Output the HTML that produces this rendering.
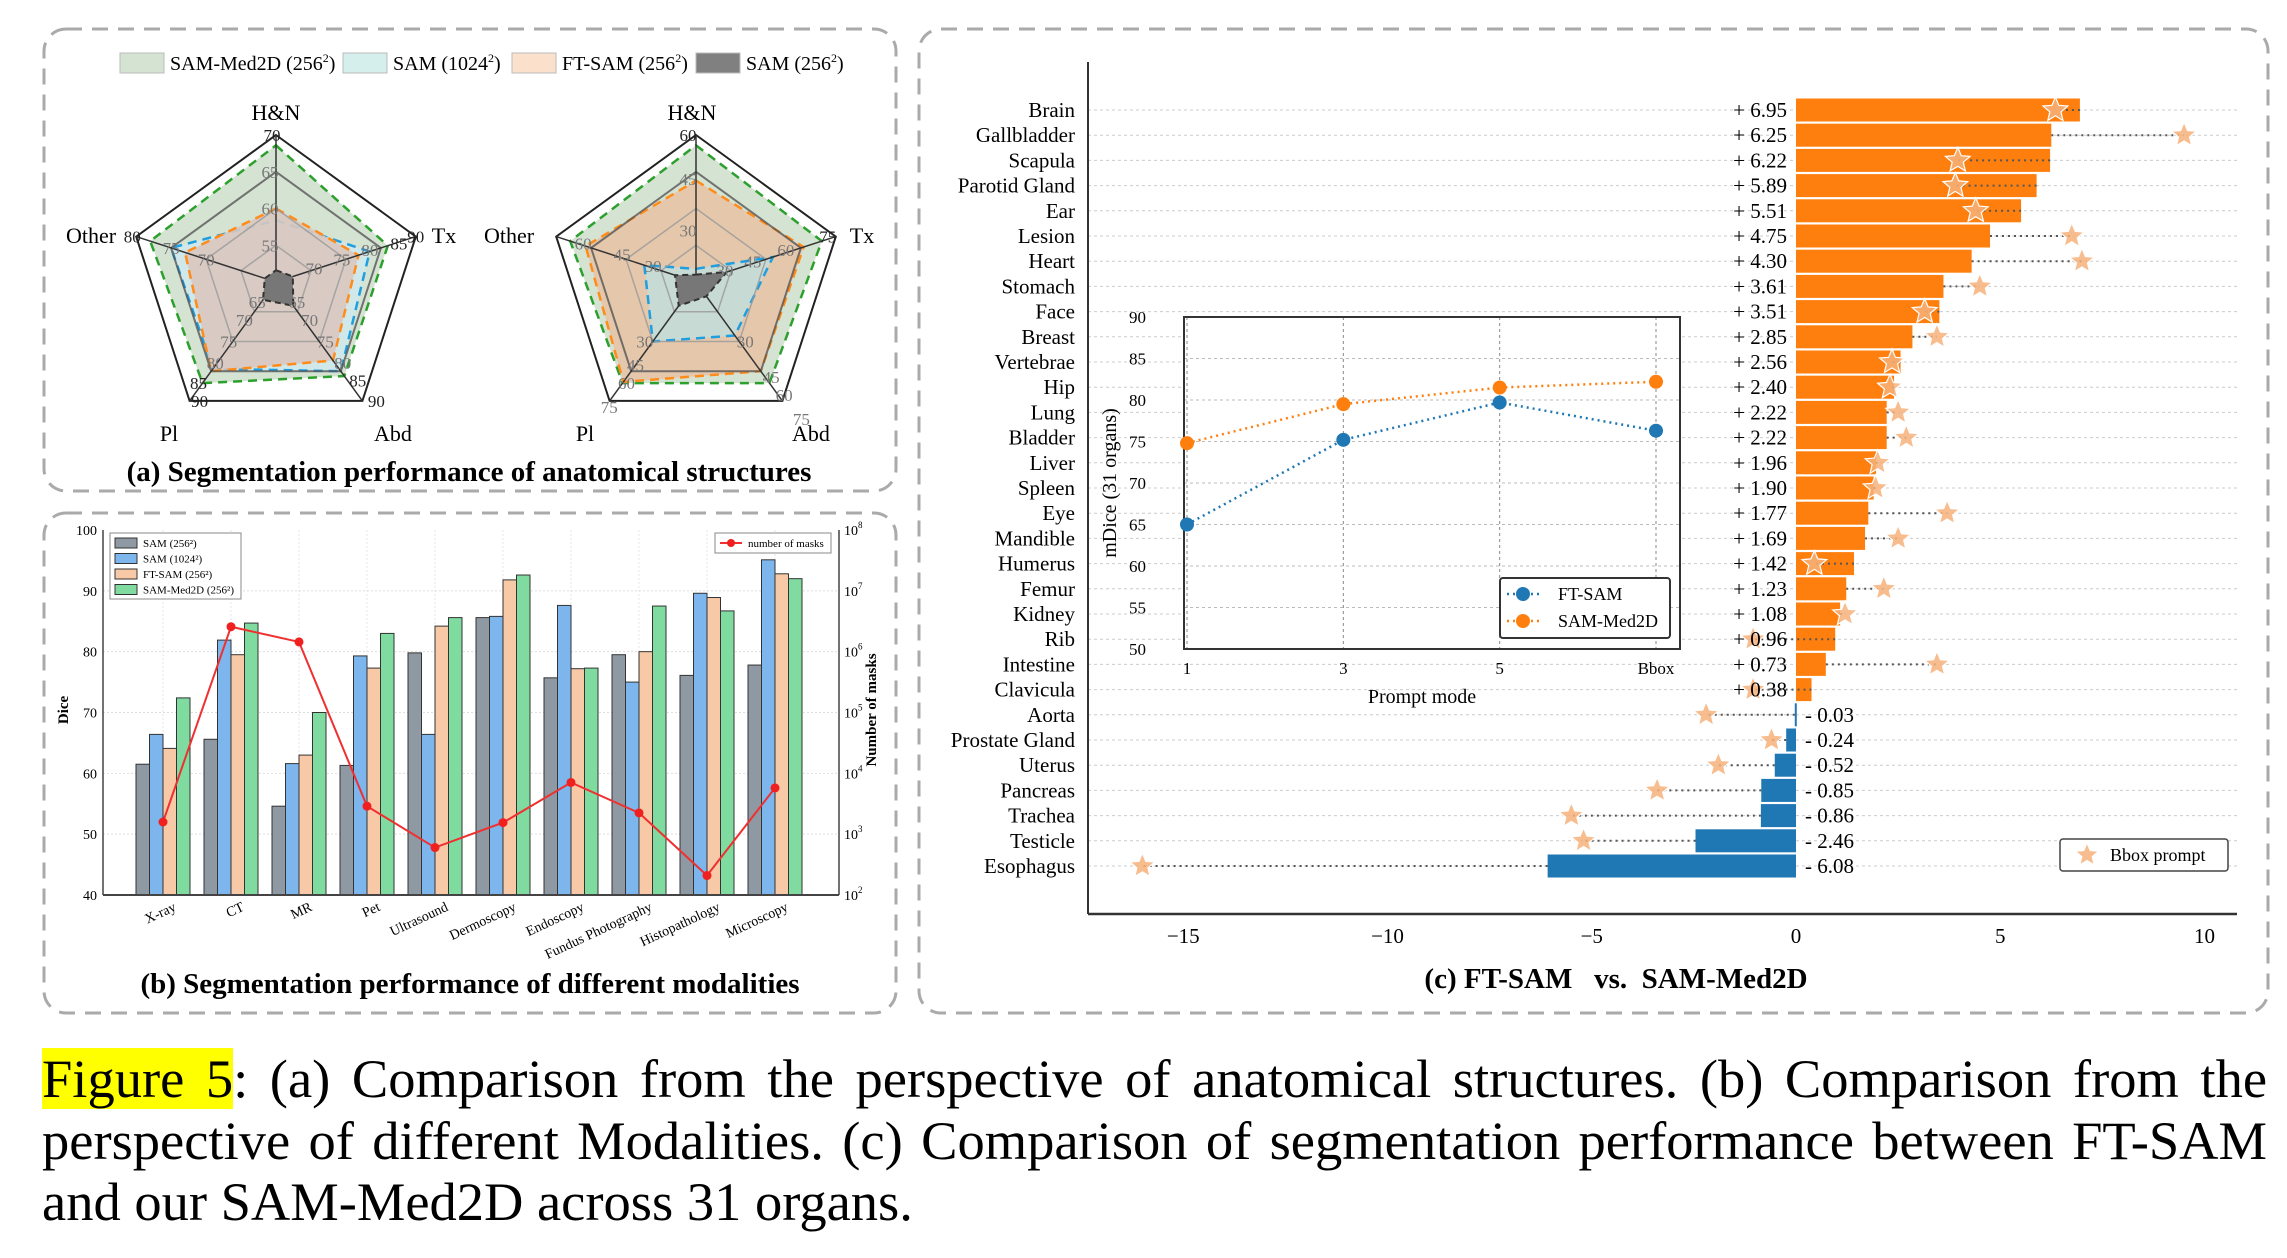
<!DOCTYPE html>
<html><head><meta charset="utf-8"><style>
body{margin:0;background:#fff;width:2287px;height:1258px;overflow:hidden;position:relative;font-family:"Liberation Serif",serif}
#fig{position:absolute;left:0;top:0}
.cap{position:absolute;left:42px;width:2225px;font-size:54.5px;line-height:60px;text-align:justify;text-align-last:justify;white-space:nowrap;color:#000}
.cap.last{text-align-last:left}
.hl{background:#ffff00}
</style></head><body>
<svg id="fig" width="2287" height="1258" viewBox="0 0 2287 1258" font-family="Liberation Serif, serif">
<rect x="44" y="29" width="852" height="462" rx="22" fill="none" stroke="#aaa" stroke-width="3" stroke-dasharray="16,10"/>
<rect x="44" y="513" width="852" height="500" rx="22" fill="none" stroke="#aaa" stroke-width="3" stroke-dasharray="16,10"/>
<rect x="919" y="29" width="1349" height="984" rx="22" fill="none" stroke="#aaa" stroke-width="3" stroke-dasharray="16,10"/>
<g id="pa"></g>
<g id="pb"></g>
<g id="pc"></g>
<text x="469" y="481" text-anchor="middle" font-size="29" font-weight="bold">(a) Segmentation performance of anatomical structures</text>
<text x="470" y="993" text-anchor="middle" font-size="29" font-weight="bold">(b) Segmentation performance of different modalities</text>
<text x="1616" y="988" text-anchor="middle" font-size="29" font-weight="bold" xml:space="preserve">(c) FT-SAM   vs.  SAM-Med2D</text>
</svg>
<div class="cap" style="top:1049px"><span class="hl">Figure 5</span>: (a) Comparison from the perspective of anatomical structures. (b) Comparison from the</div>
<div class="cap" style="top:1111px">perspective of different Modalities. (c) Comparison of segmentation performance between FT-SAM</div>
<div class="cap last" style="top:1172px">and our SAM-Med2D across 31 organs.</div>
<script>
// ---------- Panel A data (fraction of radius; axes H&N, Tx, Abd, Pl, Other) ----------
const radarAxes = ["H&N","Tx","Abd","Pl","Other"];
const leftGreen = [0.93,0.80,0.79,0.85,0.90];
const leftBlue = [0.42,0.67,0.75,0.73,0.75];
const leftOrange = [0.50,0.59,0.66,0.75,0.65];
const leftGray = [0.08,0.12,0.20,0.15,0.08];
const rightGreen = [0.93,0.90,0.85,0.85,0.90];
const rightOrange = [0.69,0.77,0.75,0.84,0.79];
const rightBlue = [0.09,0.55,0.45,0.50,0.37];
const rightGray = [0.05,0.22,0.12,0.20,0.15];
// ---------- Panel B data ----------
const modalities = ["X-ray","CT","MR","Pet","Ultrasound","Dermoscopy","Endoscopy","Fundus Photography","Histopathology","Microscopy"];
const dSam256 = [61.5,65.6,54.6,61.3,79.8,85.6,75.7,79.5,76.1,77.8];
const dSam1024 = [66.4,81.9,61.6,79.3,66.4,85.8,87.6,75.0,89.6,95.1];
const dFtSam = [64.1,79.5,63.0,77.3,84.2,91.8,77.2,80.0,88.9,92.8];
const dMed2d = [72.4,84.7,70.0,83.0,85.6,92.6,77.3,87.5,86.7,92.0];
const maskLog10 = [3.2,6.41,6.16,3.46,2.78,3.19,3.85,3.35,2.32,3.76];
const diceTicks = [40,50,60,70,80,90,100];
const maskTicks = [2,3,4,5,6,7,8];
// ---------- Panel C data ----------
const organs = ["Brain","Gallbladder","Scapula","Parotid Gland","Ear","Lesion","Heart","Stomach","Face","Breast","Vertebrae","Hip","Lung","Bladder","Liver","Spleen","Eye","Mandible","Humerus","Femur","Kidney","Rib","Intestine","Clavicula","Aorta","Prostate Gland","Uterus","Pancreas","Trachea","Testicle","Esophagus"];
const gains = [6.95,6.25,6.22,5.89,5.51,4.75,4.30,3.61,3.51,2.85,2.56,2.40,2.22,2.22,1.96,1.90,1.77,1.69,1.42,1.23,1.08,0.96,0.73,0.38,-0.03,-0.24,-0.52,-0.85,-0.86,-2.46,-6.08];
const bboxGains = [6.35,9.5,3.96,3.9,4.4,6.75,7.0,4.5,3.15,3.45,2.35,2.3,2.5,2.7,2.0,1.95,3.7,2.5,0.45,2.15,1.2,-1.05,3.45,-1.05,-2.2,-0.6,-1.9,-3.4,-5.5,-5.2,-16.0];
const xTicksC = [-15,-10,-5,0,5,10];
const promptModes = ["1","3","5","Bbox"];
const ftSamLine = [65.0,75.2,79.7,76.3];
const med2dLine = [74.8,79.5,81.5,82.2];
const insetTicks = [50,55,60,65,70,75,80,85,90];

const NS="http://www.w3.org/2000/svg";
function mk(parent,tag,attrs,text){const e=document.createElementNS(NS,tag);for(const k in attrs)e.setAttribute(k,attrs[k]);if(text!==undefined)e.textContent=text;parent.appendChild(e);return e;}

// ===== Panel A =====
const pa=document.getElementById('pa');
const legA=[["SAM-Med2D (256","#d5e3d2",120],["SAM (1024","#d5efec",343],["FT-SAM (256","#fbe1cc",512],["SAM (256","#808080",696]];
legA.forEach(l=>{
  const r=mk(pa,'rect',{x:l[2],y:53,width:44,height:20,fill:l[1],stroke:'#bbb'});
  
  
  const t=mk(pa,'text',{x:l[2]+50,y:70,'font-size':20});
  
  
  t.textContent=l[0];
  mk(t,'tspan',{'font-size':12,dy:-8},"2");
  mk(t,'tspan',{dy:8},")");
});
const angles=[-90,-18,54,126,198].map(a=>a*Math.PI/180);
function pts(cx,cy,R,fr){return fr.map((f,i)=>(cx+R*f*Math.cos(angles[i])).toFixed(1)+","+(cy+R*f*Math.sin(angles[i])).toFixed(1)).join(" ");}
function radar(cx,cy,R,series,name,labelPos,ticks){
  const g=mk(pa,'g',{});
  
  
  mk(g,'polygon',{points:pts(cx,cy,R,[1,1,1,1,1]),fill:'#fff',stroke:'#222','stroke-width':2});
  const [gr,a,b,c]=series;
  const p1=mk(g,'polygon',{points:pts(cx,cy,R,gr),fill:'#d5e3d2',stroke:'#2ca02c','stroke-width':2.5,'stroke-dasharray':'9,6'});
  
  
  const p2=mk(g,'polygon',{points:pts(cx,cy,R,a.v),fill:a.fill,'fill-opacity':a.op,stroke:a.stroke,'stroke-width':2.5,'stroke-dasharray':'9,6'});
  
  
  const p3=mk(g,'polygon',{points:pts(cx,cy,R,b.v),fill:b.fill,'fill-opacity':b.op,stroke:b.stroke,'stroke-width':2.5,'stroke-dasharray':'9,6'});
  
  
  [0.25,0.5,0.75].forEach(f=>mk(g,'polygon',{points:pts(cx,cy,R,[f,f,f,f,f]),fill:'none',stroke:f==0.75?'#555':'#999','stroke-width':f==0.75?2:1.5,'stroke-opacity':0.8}));
  angles.forEach(an=>mk(g,'line',{x1:cx,y1:cy,x2:cx+R*Math.cos(an),y2:cy+R*Math.sin(an),stroke:'#333','stroke-width':1.5}));
  const p4=mk(g,'polygon',{points:pts(cx,cy,R,c),fill:'#777',stroke:'#333','stroke-width':2,'stroke-dasharray':'6,4'});
  
  
  radarAxes.forEach((ax,i)=>{const t=mk(g,'text',{x:labelPos[i][0],y:labelPos[i][1],'font-size':22,'text-anchor':'middle'},ax);
    
    });
  ticks.forEach(tk=>{const t=mk(g,'text',{x:cx+R*tk[1]*Math.cos(angles[tk[0]])+tk[3],y:cy+R*tk[1]*Math.sin(angles[tk[0]])+6,'font-size':17,fill:tk[4]||'#777','text-anchor':'middle'},tk[2]);
    
    });
}
radar(276,282,147,[leftGreen,{v:leftBlue,fill:'#cfe9ef',op:0.85,stroke:'#1f9ee0',name:'series-sam-1024'},{v:leftOrange,fill:'#d9c8c0',op:0.9,stroke:'#ff8c1a',name:'series-ft-sam'},leftGray],'radar-left',
  [[276,120],[444,243],[393,441],[169,441],[91,243]],
  [[0,1,"70",-4,'#222'],[0,0.75,"65",-6],[0,0.5,"60",-6],[0,0.25,"55",-6],[1,1,"90",0,'#222'],[1,0.85,"85",4,'#222'],[1,0.7,"80",-4],[1,0.5,"75",-4],[1,0.3,"70",-4],[2,1,"90",14,'#222'],[2,0.83,"85",10,'#222'],[2,0.68,"80",8],[2,0.5,"75",6],[2,0.32,"70",6],[2,0.17,"65",6],[3,1,"90",10,'#222'],[3,0.85,"85",-4,'#222'],[3,0.68,"80",-2],[3,0.5,"75",-4],[3,0.32,"70",-4],[3,0.17,"65",-4],[4,1,"80",-4,'#222'],[4,0.75,"75",0],[4,0.5,"70",0]]);
radar(696,282,147,[rightGreen,{v:rightOrange,fill:'#e8c2a6',op:0.85,stroke:'#ff8c1a',name:'series-ft-sam'},{v:rightBlue,fill:'#c4dcd8',op:0.9,stroke:'#1f9ee0',name:'series-sam-1024'},rightGray],'radar-right',
  [[692,120],[862,243],[811,441],[585,441],[509,243]],
  [[0,1,"60",-8,'#222'],[0,0.7,"45",-8],[0,0.35,"30",-8],[1,1,"75",-8,'#222'],[1,0.7,"60",-8],[1,0.45,"45",-6],[1,0.25,"30",-6],[2,0.5,"30",6],[2,0.8,"45",6],[2,0.95,"60",6],[2,1.15,"75",6],[3,0.5,"30",-8],[3,0.7,"45",0],[3,0.85,"60",4],[3,1.05,"75",4],[4,0.35,"30",6],[4,0.6,"45",10],[4,0.85,"60",6]]);

// ===== Panel B =====
const pb=document.getElementById('pb');
const bL=103,bR=839,bT=530,bB=895;
const yD=v=>bB-(v-40)/60*(bB-bT);
const yM=l=>bB-(l-2)/6*(bB-bT);
const gx=i=>163+i*68.0;
const bw=13.5;
diceTicks.forEach(t=>{
  if(t>40&&t<100)mk(pb,'line',{x1:bL,x2:bR,y1:yD(t),y2:yD(t),stroke:'#ddd','stroke-dasharray':'2,2'});
  const tx=mk(pb,'text',{x:bL-6,y:yD(t)+5,'font-size':14,'text-anchor':'end'},String(t));
  
  
});
modalities.forEach((m,i)=>mk(pb,'line',{x1:gx(i),x2:gx(i),y1:bT,y2:bB,stroke:'#e4e4e4','stroke-dasharray':'2,2'}));
const seriesB=[[dSam256,'#8f99a3','bar-sam-256'],[dSam1024,'#7cb6ec','bar-sam-1024'],[dFtSam,'#f8c9a6','bar-ft-sam'],[dMed2d,'#80dba0','bar-sam-med2d']];
seriesB.forEach((s,k)=>{
  s[0].forEach((v,i)=>{
    const r=mk(pb,'rect',{x:gx(i)+(k-2)*bw,y:yD(v),width:bw,height:bB-yD(v),fill:s[1],stroke:'#333','stroke-width':1});
    
    
  });
});
mk(pb,'line',{x1:bL,x2:bR,y1:bB,y2:bB,stroke:'#444','stroke-width':2});
mk(pb,'line',{x1:bL,x2:bL,y1:bT,y2:bB,stroke:'#444','stroke-width':1.5});
mk(pb,'line',{x1:bR,x2:bR,y1:bT,y2:bB,stroke:'#444','stroke-width':1.5});
const ml=mk(pb,'polyline',{points:maskLog10.map((l,i)=>gx(i)+","+yM(l)).join(" "),fill:'none',stroke:'#f03030','stroke-width':2});


maskLog10.forEach((l,i)=>{const c=mk(pb,'circle',{cx:gx(i),cy:yM(l),r:4.5,fill:'#f02020'});
  
  });
maskTicks.forEach(t=>{const tx=mk(pb,'text',{x:bR+5,y:yM(t)+5,'font-size':14});
  
  
  tx.textContent="10";mk(tx,'tspan',{'font-size':9,dy:-7},String(t));});
modalities.forEach((m,i)=>{const t=mk(pb,'text',{x:gx(i)+14,y:910,'font-size':14,'text-anchor':'end',transform:`rotate(-25 ${gx(i)+14} 910)`},m);
  
  });
const dl=mk(pb,'text',{x:0,y:0,'font-size':15,'font-weight':'bold','text-anchor':'middle',transform:'translate(68 710) rotate(-90)'},"Dice");


const nl=mk(pb,'text',{x:0,y:0,'font-size':15,'font-weight':'bold','text-anchor':'middle',transform:'translate(876 710) rotate(-90)'},"Number of masks");


const lgB=mk(pb,'g',{});


mk(lgB,'rect',{x:110,y:533,width:131,height:66,fill:'#fff',stroke:'#888'});
["SAM (256²)","SAM (1024²)","FT-SAM (256²)","SAM-Med2D (256²)"].forEach((n,k)=>{
  mk(lgB,'rect',{x:115,y:538+k*15.5,width:22,height:10,fill:seriesB[k][1],stroke:'#333'});
  const t=mk(lgB,'text',{x:143,y:547+k*15.5,'font-size':11},n);
  
  
});
mk(lgB,'rect',{x:715,y:533,width:116,height:20,fill:'#fff',stroke:'#888'});
mk(lgB,'line',{x1:720,x2:742,y1:543,y2:543,stroke:'#f03030','stroke-width':2});
mk(lgB,'circle',{cx:731,cy:543,r:4,fill:'#f02020'});
const mt=mk(lgB,'text',{x:748,y:547,'font-size':11},"number of masks");



// ===== Panel C =====
const pc=document.getElementById('pc');
const x0=1796,unit=40.85,cL=1088,cR=2237,cT=62,cB=914;
const xC=v=>x0+v*unit;
const rowY=i=>110+i*25.2;
organs.forEach((o,i)=>{
  mk(pc,'line',{x1:cL,x2:cR,y1:rowY(i),y2:rowY(i),stroke:'#ccc','stroke-dasharray':'3,3','stroke-width':1});
});
function starPath(cx,cy,r){let d="";for(let k=0;k<10;k++){const a=-Math.PI/2+k*Math.PI/5;const rr=k%2?r*0.45:r;d+=(k?"L":"M")+(cx+rr*Math.cos(a)).toFixed(1)+","+(cy+rr*Math.sin(a)).toFixed(1);}return d+"Z";}
organs.forEach((o,i)=>{
  const v=gains[i],y=rowY(i);
  const r=mk(pc,'rect',{x:Math.min(xC(0),xC(v)),y:y-11.5,width:Math.max(Math.abs(xC(v)-xC(0)),2),height:23,fill:v>=0?'#ff7f0e':'#1f77b4'});
  
  
  const b=bboxGains[i];
  mk(pc,'line',{x1:xC(v),x2:xC(b),y1:y,y2:y,stroke:'#555','stroke-width':2,'stroke-dasharray':'2,4'});
  const st=mk(pc,'path',{d:starPath(xC(b),y,13),fill:'#f7b27a','fill-opacity':0.85,stroke:'#fff','stroke-width':1.2});
  
  
  const lab=mk(pc,'text',{x:1075,y:y+7,'font-size':21,'text-anchor':'end'},o);
  
  
  const vt=v>=0?mk(pc,'text',{x:1787,y:y+7,'font-size':21,'text-anchor':'end'},"+ "+v.toFixed(2)):mk(pc,'text',{x:1805,y:y+7,'font-size':21},"- "+Math.abs(v).toFixed(2));
  
  
});
mk(pc,'line',{x1:cL,x2:cL,y1:cT,y2:cB,stroke:'#333','stroke-width':2});
mk(pc,'line',{x1:cL,x2:cR,y1:cB,y2:cB,stroke:'#333','stroke-width':2.5});
xTicksC.forEach(t=>{const tx=mk(pc,'text',{x:xC(t),y:943,'font-size':21,'text-anchor':'middle'},t<0?"\u2212"+Math.abs(t):String(t));
  
  });
const lgC=mk(pc,'g',{});


mk(lgC,'rect',{x:2060,y:839,width:168,height:32,rx:3,fill:'#fff',stroke:'#444','stroke-width':1.5});
mk(lgC,'path',{d:starPath(2087,855,12),fill:'#f7b27a','fill-opacity':0.85,stroke:'#fff'});
mk(lgC,'text',{x:2110,y:861,'font-size':18},"Bbox prompt");
// inset
const iL=1184,iR=1680,iT=317,iB=649;
const ig=mk(pc,'g',{});


mk(ig,'rect',{x:iL,y:iT,width:iR-iL,height:iB-iT,fill:'#fff',stroke:'#333','stroke-width':2});
const ix=i=>1187+i*(1656-1187)/3;
const iy=v=>iB-(v-50)/40*(iB-iT);
insetTicks.forEach(t=>{
  mk(ig,'line',{x1:iL,x2:iR,y1:iy(t),y2:iy(t),stroke:'#bbb','stroke-dasharray':'3,3'});
  const tx=mk(ig,'text',{x:1146,y:iy(t)+6,'font-size':17,'text-anchor':'end'},String(t));
  
  
});
promptModes.forEach((p,i)=>{
  mk(ig,'line',{x1:ix(i),x2:ix(i),y1:iT,y2:iB,stroke:'#888','stroke-dasharray':'3,3'});
  const tx=mk(ig,'text',{x:ix(i),y:674,'font-size':17,'text-anchor':'middle'},p);
  
  
});
mk(ig,'rect',{x:iL,y:iT,width:iR-iL,height:iB-iT,fill:'none',stroke:'#333','stroke-width':2});
[[ftSamLine,'#1f77b4','line-ft-sam'],[med2dLine,'#ff7f0e','line-sam-med2d']].forEach(s=>{
  const pl=mk(ig,'polyline',{points:s[0].map((v,i)=>ix(i)+","+iy(v)).join(" "),fill:'none',stroke:s[1],'stroke-width':2.5,'stroke-dasharray':'2,4'});
  
  
  s[0].forEach((v,i)=>{const c=mk(ig,'circle',{cx:ix(i),cy:iy(v),r:7,fill:s[1]});
    
    });
});
const il=mk(ig,'text',{x:0,y:0,'font-size':20,'text-anchor':'middle',transform:'translate(1116 483) rotate(-90)'},"mDice (31 organs)");


const ixl=mk(ig,'text',{x:1422,y:703,'font-size':20,'text-anchor':'middle'},"Prompt mode");


const ilg=mk(ig,'g',{});


mk(ilg,'rect',{x:1500,y:578,width:170,height:60,rx:3,fill:'#fff',stroke:'#333','stroke-width':2});
[['FT-SAM','#1f77b4',594],['SAM-Med2D','#ff7f0e',621]].forEach(e=>{
  mk(ilg,'line',{x1:1507,x2:1539,y1:e[2],y2:e[2],stroke:e[1],'stroke-width':2.5,'stroke-dasharray':'2,4'});
  mk(ilg,'circle',{cx:1523,cy:e[2],r:7,fill:e[1]});
  mk(ilg,'text',{x:1558,y:e[2]+6,'font-size':18},e[0]);
});
</script>
</body></html>
